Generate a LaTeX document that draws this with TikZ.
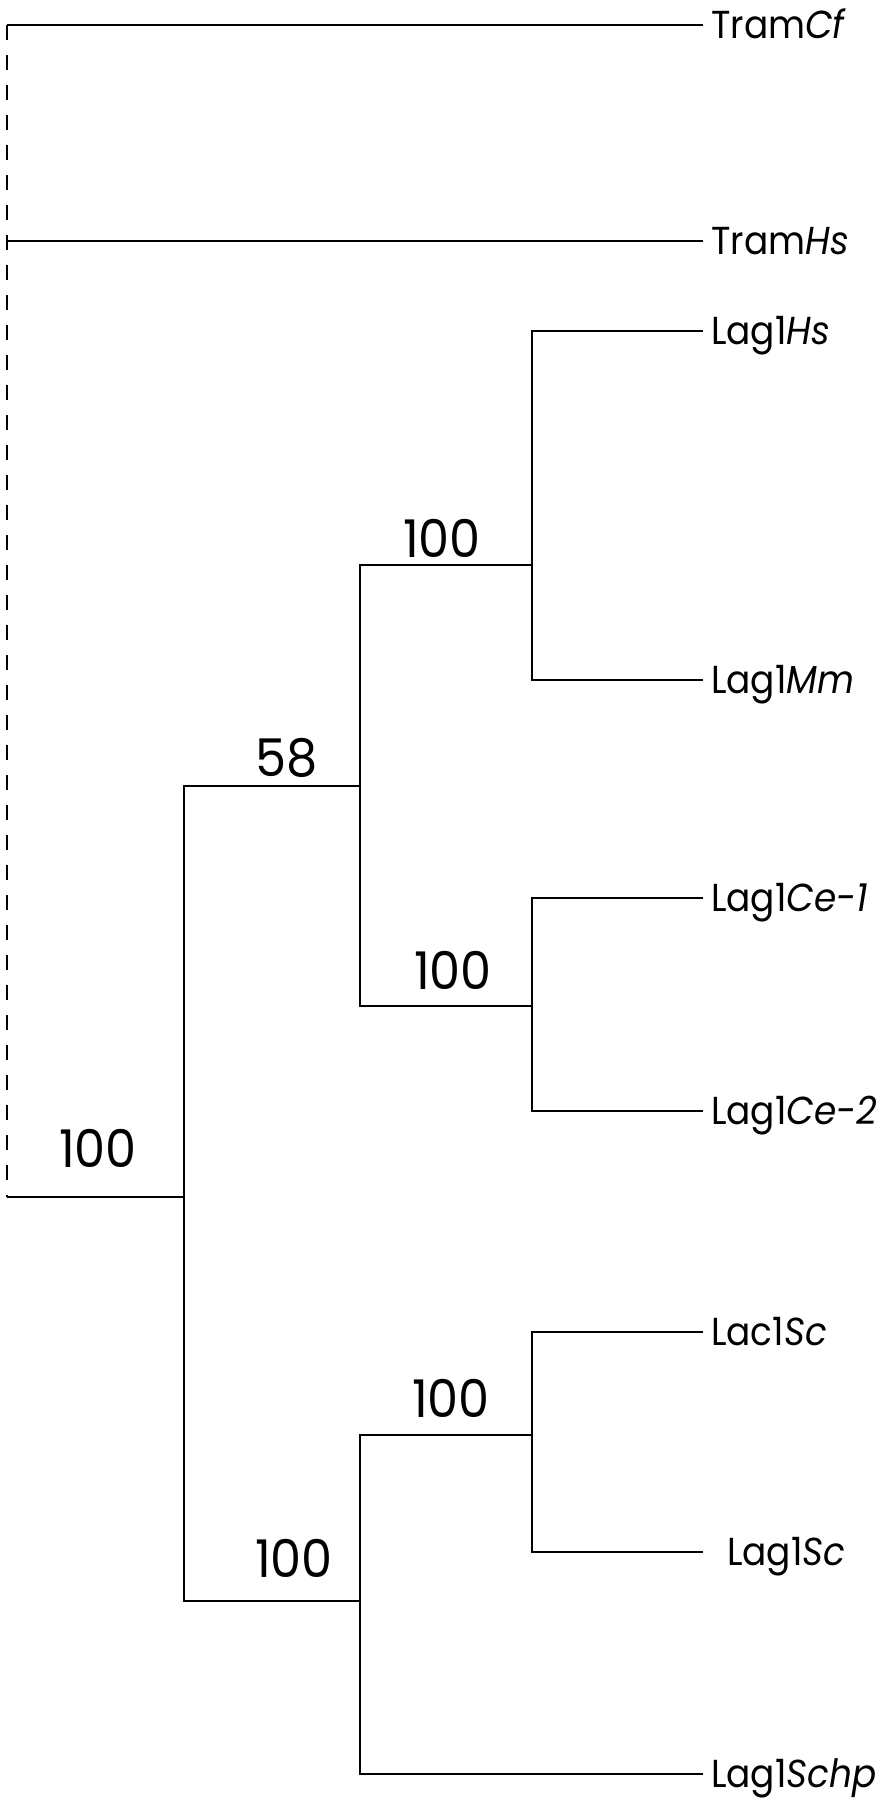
\documentclass[tikz,border=0pt]{standalone}
\usepackage{fontspec}
\setmainfont[FakeStretch=0.92]{Poppins}
\newfontfamily\numfont[FakeStretch=0.95]{Poppins}
\usetikzlibrary{positioning}

\tikzset{
  leaf/.style={anchor=west, inner xsep=8pt, inner ysep=0pt, text height=27pt, text depth=0pt,
    font=\fontsize{39}{41}\selectfont},
  boot/.style={inner sep=0pt, font=\numfont\fontsize{52}{54}\selectfont},
  branch/.style={line width=2.7pt}
}

\begin{document}
\begin{tikzpicture}[x=1pt, y=-1pt]
  \useasboundingbox (0,0) rectangle (891,1800);
  % root line
  \coordinate (top)  at (7,25);
  \coordinate (root) at (7,1197);
  % inner nodes
  \coordinate (lag)  at (184,1197);
  \coordinate (met)  at (360,786);
  \coordinate (mam)  at (532,565);
  \coordinate (worm) at (532,1006);
  \coordinate (yst)  at (360,1601);
  \coordinate (sac)  at (532,1435);
  % leaves
  \node [leaf] (tcf)  at (703,25)   {Tram\textit{Cf}};
  \node [leaf] (ths)  at (703,241)  {Tram\textit{Hs}};
  \node [leaf] (lhs)  at (703,331)  {Lag1\textit{Hs}};
  \node [leaf] (lmm)  at (703,680)  {Lag1\textit{Mm}};
  \node [leaf] (ce1)  at (703,898)  {Lag1\textit{Ce-1}};
  \node [leaf] (ce2)  at (703,1111) {Lag1\textit{Ce-2}};
  \node [leaf] (lac)  at (703,1332) {Lac1\textit{Sc}};
  \node [leaf, inner xsep=24pt] (lsc) at (703,1552) {Lag1\textit{Sc}};
  \node [leaf] (schp) at (703,1774) {Lag1\textit{Schp}};
  % bootstrap values
  \node [boot] (bmam)  at (442,538)  {100};
  \node [boot] (bmet)  at (287,758)  {58};
  \node [boot] (bworm) at (453,970)  {100};
  \node [boot] (blag)  at (98,1148)  {100};
  \node [boot] (bsac)  at (451,1398) {100};
  \node [boot] (byst)  at (294,1558) {100};
  % branches
  \draw [branch] (tcf) -- (top);
  \draw [branch, dash pattern=on 15pt off 15pt] (top) -- (root);
  \draw [branch] (ths) -- (root |- ths);
  \draw [branch] (root) -- (lag);
  \path [branch]
  (lag) edge [to path={|- (\tikztotarget)}] (met)
  (lag) edge [to path={|- (\tikztotarget)}] (yst)
  (met) edge [to path={|- (\tikztotarget)}] (mam)
  (met) edge [to path={|- (\tikztotarget)}] (worm)
  (mam) edge [to path={|- (\tikztotarget)}] (lhs)
  (mam) edge [to path={|- (\tikztotarget)}] (lmm)
  (worm) edge [to path={|- (\tikztotarget)}] (ce1)
  (worm) edge [to path={|- (\tikztotarget)}] (ce2)
  (yst) edge [to path={|- (\tikztotarget)}] (sac)
  (yst) edge [to path={|- (\tikztotarget)}] (schp)
  (sac) edge [to path={|- (\tikztotarget)}] (lac)
  (sac) edge [to path={|- (\tikztotarget)}] (lsc);
\end{tikzpicture}
\end{document}
